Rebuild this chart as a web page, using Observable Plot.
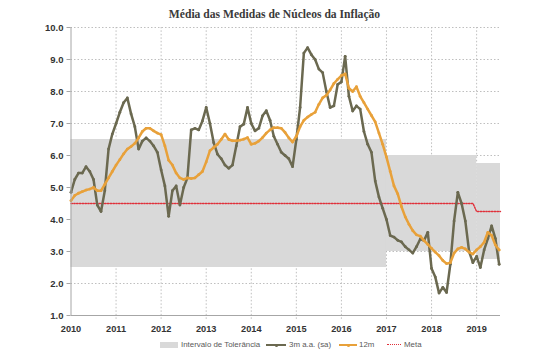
<!DOCTYPE html>
<html><head><meta charset="utf-8">
<script src="https://cdn.jsdelivr.net/npm/d3@7"></script>
<script src="https://cdn.jsdelivr.net/npm/@observablehq/plot@0.6"></script>
<style>
body{margin:0;background:#fff;}
#wrap{position:relative;width:549px;height:357px;overflow:hidden;}
#chart{position:absolute;left:0;top:0;}
#title{position:absolute;left:0;width:549px;top:8px;line-height:14px;text-align:center;font:bold 11.6px "Liberation Serif","DejaVu Serif",serif;color:#3a3a3a;}
.lg{position:absolute;top:339.5px;font:7.9px "Liberation Sans",Arial,sans-serif;color:#595959;line-height:10px;white-space:nowrap;}
.sw{position:absolute;}
</style></head><body>
<div id="wrap">
<div id="chart"></div>
<div id="title">Média das Medidas de Núcleos da Inflação</div>
<div id="legend"></div>
</div>
<script>
// Monthly data, Jan 2010 .. Jul 2019
const startYear = 2010;
const core3m = [
 4.85,5.25,5.45,5.45,5.65,5.5,5.25,4.45,4.25,4.9,6.2,6.67,
 7.0,7.35,7.65,7.8,7.3,6.9,6.2,6.45,6.55,6.45,6.3,6.1,
 5.55,5.05,4.1,4.9,5.05,4.45,5.0,5.3,6.8,6.85,6.8,7.08,
 7.5,7.0,6.4,6.04,5.9,5.7,5.6,5.7,6.3,6.9,6.98,7.5,
 7.0,6.77,6.85,7.24,7.4,7.1,6.6,6.35,6.1,6.0,5.9,5.65,
 6.5,7.5,9.2,9.37,9.15,9.0,8.7,8.59,8.0,7.5,7.55,8.22,
 8.3,9.1,7.85,7.39,7.55,7.45,6.75,6.35,6.1,5.2,4.7,4.35,
 4.0,3.5,3.45,3.35,3.3,3.15,3.05,2.95,3.15,3.39,3.34,3.6,
 2.47,2.2,1.7,1.88,1.72,2.6,3.95,4.85,4.5,3.95,3.0,2.65,
 2.85,2.5,3.05,3.4,3.8,3.4,2.6
];
const core12m = [
 4.59,4.75,4.82,4.87,4.92,4.95,5.0,4.9,4.9,5.1,5.3,5.5,
 5.7,5.87,6.05,6.2,6.28,6.38,6.55,6.75,6.85,6.85,6.77,6.7,
 6.65,6.3,5.85,5.7,5.45,5.3,5.25,5.3,5.28,5.3,5.4,5.5,
 5.8,6.15,6.25,6.35,6.5,6.67,6.5,6.46,6.46,6.48,6.51,6.56,
 6.35,6.38,6.45,6.56,6.7,6.8,6.87,6.87,6.85,6.72,6.55,6.42,
 6.6,6.9,7.1,7.2,7.28,7.35,7.6,7.8,7.88,8.05,8.25,8.38,
 8.5,8.55,8.1,8.0,8.15,7.85,7.65,7.45,7.25,7.05,6.7,6.35,
 5.95,5.5,5.05,4.8,4.4,4.08,3.85,3.65,3.52,3.48,3.34,3.22,
 3.1,2.98,2.87,2.72,2.62,2.65,2.95,3.08,3.13,3.08,2.98,2.92,
 3.05,3.15,3.29,3.6,3.5,3.2,3.05
];
// Tolerance interval
const bandStart = [2010, 2017, 2019];
const bandEnd   = [2017, 2019, 2019.53];
const bandLow   = [2.5, 3.0, 2.75];
const bandHigh  = [6.5, 6.0, 5.75];
// Inflation target
const metaYear  = [2010, 2018.92, 2019, 2019.53];
const metaValue = [4.5, 4.5, 4.25, 4.25];
const yearTicks = [2010,2011,2012,2013,2014,2015,2016,2017,2018,2019];
const yTicks = [1,2,3,4,5,6,7,8,9,10];
const legendLabels = ["Intervalo de Tolerância","3m a.a. (sa)","12m","Meta"];

const C3 = "#6b6950", C12 = "#e8a13a", CB = "#d9d9d9", CM = "#e0303a", GRID = "#b8b8b8", AX = "#a6a6a6";

const s3 = core3m.map((v,i)=>({t:startYear+i/12, v}));
const s12 = core12m.map((v,i)=>({t:startYear+i/12, v}));
const bands = bandStart.map((s,i)=>({x1:s, x2:bandEnd[i], y1:bandLow[i], y2:bandHigh[i]}));
const meta = metaYear.map((t,i)=>({t, v:metaValue[i]}));

const chart = Plot.plot({
  width: 549, height: 340,
  marginLeft: 70.5, marginRight: 49, marginTop: 27, marginBottom: 25,
  style: {fontFamily: "'Liberation Sans', Arial, sans-serif", background: "transparent"},
  x: {domain: [2010, 2019.53], axis: null},
  y: {domain: [1, 10], axis: null},
  marks: [
    Plot.ruleY(yTicks.slice(1), {x1: 2010, x2: 2019.53, stroke: GRID, strokeDasharray: "1.5,2", strokeWidth: 0.9}),
    Plot.ruleX(yearTicks.slice(1), {y1: 0.88, y2: 10, stroke: GRID, strokeDasharray: "1.5,2", strokeWidth: 0.9}),
    Plot.rect(bands, {x1: "x1", x2: "x2", y1: "y1", y2: "y2", fill: CB}),
    Plot.line(meta, {x: "t", y: "v", stroke: CM, strokeWidth: 1.4, strokeDasharray: "1.4,1.4"}),
    Plot.line(s3, {x: "t", y: "v", stroke: C3, strokeWidth: 2.5}),
    Plot.dot(s3, {x: "t", y: "v", r: 1.4, fill: C3}),
    Plot.line(s12, {x: "t", y: "v", stroke: C12, strokeWidth: 2.5}),
    Plot.dot(s12, {x: "t", y: "v", r: 1.4, fill: C12}),
    Plot.ruleX([2010], {y1: 1, y2: 10, stroke: AX, strokeWidth: 1}),
    Plot.ruleY([1], {x1: 2010, x2: 2019.53, stroke: AX, strokeWidth: 1}),
    Plot.axisY(yTicks, {tickFormat: d => d.toFixed(1), tickSize: 4, tickPadding: 3.5, fontSize: 9.5, fontWeight: "bold", stroke: AX, fill: "#333"}),
    Plot.axisX(yearTicks, {tickFormat: d => String(d), tickSize: 0, tickPadding: 9.5, fontSize: 9.2, fontWeight: "bold", fill: "#333"})
  ]
});
document.getElementById("chart").appendChild(chart);

// Legend
const lg = document.getElementById("legend");
const items = [
  {sw:{left:160, top:342, w:18, h:6, bg:CB}, text:{left:181}, label:legendLabels[0]},
  {line:{left:266, w:20, color:C3}, text:{left:289}, label:legendLabels[1]},
  {line:{left:339, w:18, color:C12}, text:{left:359}, label:legendLabels[2]},
  {dash:{left:387, w:14, color:CM}, text:{left:404}, label:legendLabels[3]}
];
items.forEach(it=>{
  if(it.sw){const d=document.createElement("div");d.className="sw";Object.assign(d.style,{left:it.sw.left+"px",top:it.sw.top+"px",width:it.sw.w+"px",height:it.sw.h+"px",background:it.sw.bg});lg.appendChild(d);}
  if(it.line){const d=document.createElement("div");d.className="sw";Object.assign(d.style,{left:it.line.left+"px",top:"344px",width:it.line.w+"px",height:"2px",background:it.line.color});lg.appendChild(d);
    const c=document.createElement("div");c.className="sw";Object.assign(c.style,{left:(it.line.left+it.line.w/2-1.5)+"px",top:"343.5px",width:"3px",height:"3px",borderRadius:"50%",background:it.line.color});lg.appendChild(c);}
  if(it.dash){const d=document.createElement("div");d.className="sw";Object.assign(d.style,{left:it.dash.left+"px",top:"344px",width:it.dash.w+"px",height:"0px",borderTop:"1.5px dotted "+it.dash.color});lg.appendChild(d);}
  const t=document.createElement("div");t.className="lg";t.style.left=it.text.left+"px";t.textContent=it.label;lg.appendChild(t);
});
</script>
</body></html>
